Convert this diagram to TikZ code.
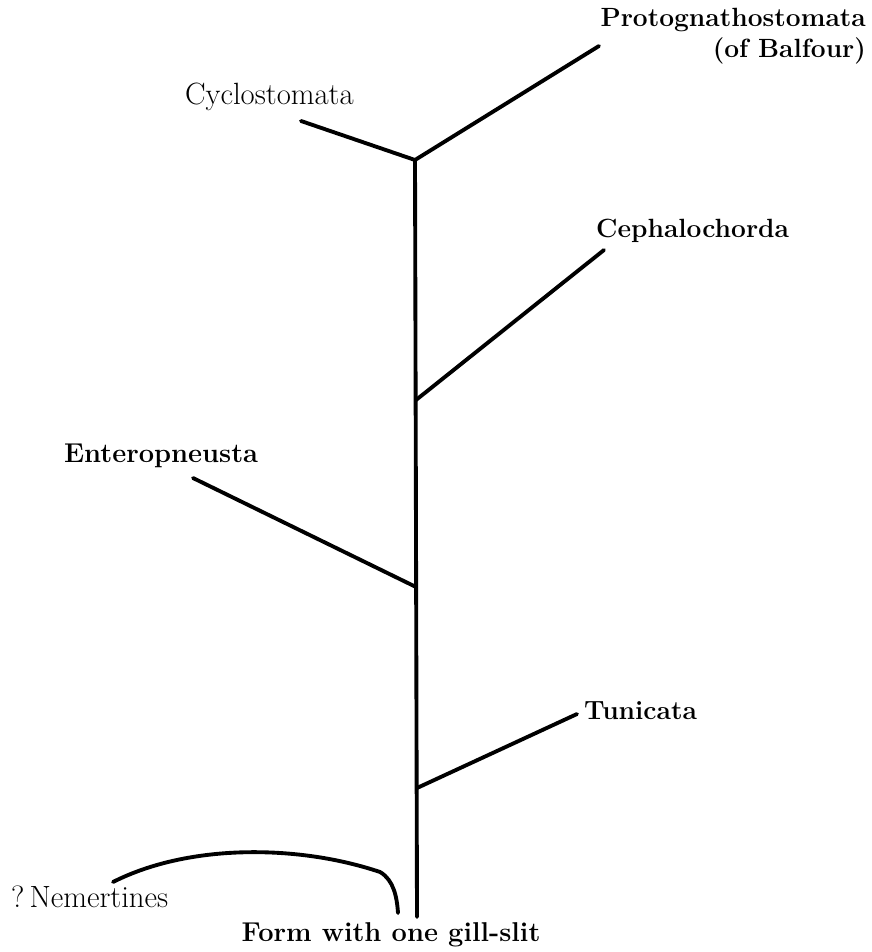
\documentclass[tikz,border=0pt]{standalone}
\usetikzlibrary{positioning}
\tikzset{
  branch/.style={line width=2.2pt, line cap=round},
  taxon/.style={font=\fontsize{17.5}{20}\selectfont, inner sep=1pt},
  taxonb/.style={taxon, font=\fontsize{15}{17.5}\selectfont\bfseries}
}

\begin{document}
\begin{tikzpicture}[x=0.02cm, y=-0.02cm]
  \useasboundingbox (0,0) rectangle (871,952);

  % stem and forks
  \coordinate (root) at (417,917);
  \coordinate (top) at (415,160);
  \coordinate (fkceph) at (416,400);
  \coordinate (fkenter) at (416,587);
  \coordinate (fktun) at (417,788);

  % ends of the branches
  \coordinate (cycend) at (301,121);
  \coordinate (protend) at (599,46);
  \coordinate (cephend) at (604,250);
  \coordinate (enterend) at (193,478);
  \coordinate (tunend) at (577,714);
  \coordinate (nemstart) at (113,882);
  \coordinate (nemend) at (398,913);

  % labels
  \node[taxon, anchor=west] (cyclo) at (183,97) {Cyclostomata};
  \node[taxonb, align=right, anchor=north east] (proto) at (868,6) {Protognathostomata\\(of Balfour)};
  \node[taxonb, anchor=west] (cepha) at (594,231) {Cephalochorda};
  \node[taxonb, font=\fontsize{15.5}{18}\selectfont\bfseries, anchor=west] (entero) at (62,456) {Enteropneusta};
  \node[taxonb, anchor=west] (tuni) at (582,711) {Tunicata};
  \node[taxon, anchor=west] (nemer) at (9,897) {?\,Nemertines};
  \node[taxonb, font=\fontsize{15.5}{18}\selectfont\bfseries] (form) at (391,935) {Form with one gill-slit};

  \draw[branch] (root) -- (top);
  \draw[branch] (cycend) -- (top) -- (protend);
  \draw[branch] (fkceph) -- (cephend);
  \draw[branch] (fkenter) -- (enterend);
  \draw[branch] (fktun) -- (tunend);
  \draw[branch] (nemstart) .. controls (190,843) and (300,845) .. (380,872)
    .. controls (394,880) and (397,898) .. (nemend);

\end{tikzpicture}
\end{document}
